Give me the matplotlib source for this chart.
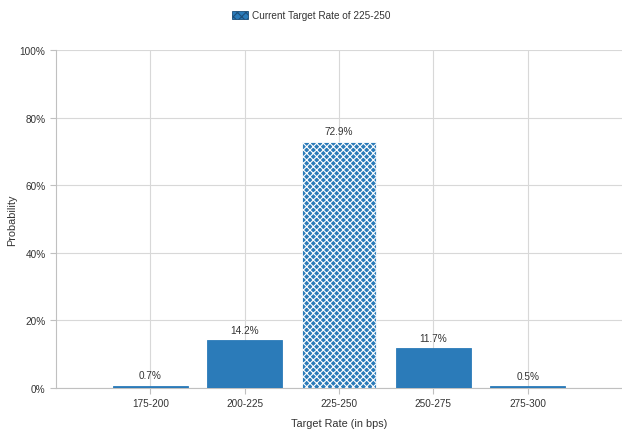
import numpy as np
import matplotlib
matplotlib.use('Agg')
import matplotlib.pyplot as plt
from matplotlib.patches import Patch

plt.rcParams['font.family'] = ['Liberation Sans', 'DejaVu Sans']
plt.rcParams['hatch.color'] = 'white'
plt.rcParams['hatch.linewidth'] = 0.8

# Дані
categories = ['175-200', '200-225', '225-250', '250-275', '275-300']
probability = [0.7, 14.2, 72.9, 11.7, 0.5]
current_idx = 2
legend_label = 'Current Target Rate of 225-250'

blue = '#2b7bb9'
grid_c = '#d8d8d8'
text_c = '#333333'

fig = plt.figure(figsize=(6.22, 4.31), dpi=100)
ax = fig.add_axes([0.090, 0.0974, 0.91, 0.7843])

x = np.arange(len(categories))
bars = ax.bar(x, probability, width=0.79, color=blue, edgecolor=blue, linewidth=0.6, zorder=3)
bars[current_idx].set_hatch('xxxxx')
bars[current_idx].set_edgecolor('white')
bars[current_idx].set_facecolor(blue)

for xi, v in zip(x, probability):
    ax.text(xi, v + 1.6, f'{v}%', ha='center', va='bottom', fontsize=7.2, color=text_c)

ax.set_xlim(-1, 5)
ax.set_ylim(0, 100)
ax.set_xticks(x)
ax.set_xticklabels(categories)
ax.set_yticks(np.arange(0, 101, 20))
ax.set_yticklabels([f'{t}%' for t in range(0, 101, 20)])
ax.tick_params(axis='both', labelsize=7.2, colors='#c0c0c0', labelcolor=text_c, length=4, width=0.8)
ax.grid(True, color=grid_c, linewidth=0.8, zorder=0)
for s in ['top', 'right']:
    ax.spines[s].set_visible(False)
for s in ['left', 'bottom']:
    ax.spines[s].set_color('#c0c0c0')
    ax.spines[s].set_linewidth(0.8)

ax.set_xlabel('Target Rate (in bps)', fontsize=7.8, color=text_c, labelpad=7)
ax.set_ylabel('Probability', fontsize=7.8, color=text_c)
ax.yaxis.set_label_coords(-0.068, 0.5)

handle = Patch(facecolor=blue, edgecolor='#1d4f7a', hatch='xxxx', linewidth=0.6)
fig.legend([handle], [legend_label], loc='center', bbox_to_anchor=(0.5, 0.962),
           frameon=False, fontsize=7.2, handlelength=1.6, handleheight=0.9,
           handletextpad=0.4, labelcolor=text_c)

fig.savefig('out.png', dpi=100)
